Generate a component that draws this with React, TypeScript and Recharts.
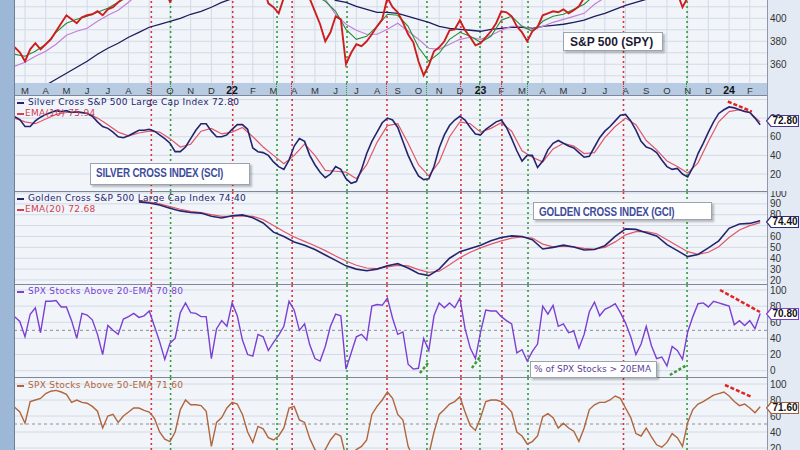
import React from "react";
import { LineChart, Line, XAxis, YAxis, CartesianGrid, ReferenceLine } from "recharts";

const FONT = "'Liberation Sans', Arial, sans-serif";
const SANS = "'DejaVu Sans', Verdana, sans-serif";

// time axis: months since Mar-2021
const X_DOMAIN: [number, number] = [-0.483, 35.83];
const monthLabels = ["M","A","M","J","J","A","S","O","N","D","22","F","M","A","M","J","J","A","S","O","N","D","23","F","M","A","M","J","J","A","S","O","N","D","24","F"];
const monthTicks = monthLabels.map((_, i) => i);
const weeklyDates = Array.from({ length: 145 }, (_, i) => -0.5 + 0.25 * i);
const biweeklyDates = Array.from({ length: 73 }, (_, j) => -0.5 + 0.5 * j);

const sellSignals = [6.1, 10.03, 12.9, 17.48, 21.05, 23.03, 28.9];
const buySignals = [7.03, 12.17, 15.55, 19.41, 21.97, 24.29, 31.97];

const spyClose = [
  374.8, 370.4, 362.6, 373, 378.3, 373, 377.4, 381.7, 388.7, 395.7,
  402.6, 399.1, 395.7, 400.9, 402.6, 403.5, 406.1, 402.6, 407.8, 409.6,
  413.9, 417.4, 425, 432, 438, 445, 448, 440, 432, 424,
  414.5, 421, 432, 440, 448, 455, 460, 462, 458, 465,
  468, 470, 472, 462, 445, 432, 440, 442, 428, 413,
  409.6, 404.3, 418, 430, 442, 448, 440, 417, 406.1, 394.8,
  380, 387.8, 401.7, 399.1, 360, 370, 377.4, 375.7, 380, 386.1,
  393, 399.1, 418, 409.6, 405.2, 396.5, 386.1, 379.1, 362.6, 350.4,
  359.1, 371.3, 374.8, 380, 389.6, 390.4, 398.3, 389.6, 383.5, 376.5,
  378.3, 383.5, 388.7, 395.7, 406.1, 405.2, 401.7, 393, 387.8, 380,
  388.7, 392.2, 402.6, 404.3, 406.1, 405.2, 407.8, 404.3, 407, 410.4,
  418, 425, 430, 435, 440, 446, 450, 455, 454, 448,
  444, 440, 444, 438, 432, 428, 425, 420, 422, 409.6,
  418, 430, 440, 446, 452, 458, 462, 466, 470, 472,
  475, 480, 485, 490, 495,
];
const spyEma20 = [
  368.7, 367, 371.3, 377.4, 387.8, 395.7, 399.1, 401.7, 405.2, 408.7,
  413.9, 419, 430, 440, 440, 435, 432, 440, 450, 460,
  462, 465, 455, 445, 440, 432, 430, 440, 445, 420,
  414.8, 406.1, 390.4, 381.7, 384.3, 393, 403.5, 402.6, 393, 374.8,
  362.6, 369.6, 381.7, 387.8, 384.3, 379.1, 384.3, 398.3, 401.7, 393,
  388.7, 397.4, 401.7, 403.5, 407.8, 412.2, 420, 430, 440, 445,
  445, 440, 435, 430, 425, 421, 428, 440, 450, 460,
  470, 478, 485,
];
const spyEma50 = [
  358.3, 361.7, 367, 371.3, 377.4, 385.2, 388.7, 391.3, 397.4, 402.6,
  407, 413.9, 422, 428, 432, 433, 433, 436, 442, 448,
  452, 455, 452, 448, 444, 440, 438, 438, 438, 425,
  416.5, 403.5, 394.8, 389.6, 386.1, 386.1, 390.4, 395.7, 388.7, 381.7,
  373.9, 373, 377.4, 381.7, 383.5, 381.7, 385.2, 389.6, 393, 393,
  390.4, 393, 396.5, 399.1, 401.7, 404.3, 412.2, 418, 424, 430,
  435, 437, 436, 434, 430, 428, 428, 432, 440, 447,
  455, 462, 468,
];
const spyMa200 = [
  329.6, 333, 338.3, 341.7, 347, 352.2, 357.4, 362.6, 368.7, 373.9,
  378.3, 383.5, 387.8, 392.2, 394.8, 397.4, 400, 403.5, 406.1, 409.6,
  413.9, 417, 420, 422, 424, 425, 426, 427, 427, 425,
  421, 415.6, 413.9, 410.4, 407.8, 405.2, 405.2, 404.3, 401.7, 399.1,
  396.5, 393, 391.3, 390.4, 389.6, 388.7, 390.4, 391.3, 392.2, 392.2,
  391.3, 393, 393.9, 394.8, 396.5, 398.3, 401.7, 404.3, 407.8, 411.3,
  413.9, 416.5, 418, 420, 421, 422, 424, 426, 429, 432,
  435, 438, 441,
];
const silverCross = [
  81.6, 78.4, 71, 71, 77, 81, 84, 86, 88, 87,
  88, 86, 87, 86, 85, 82, 76, 71, 69, 65,
  60, 59, 61, 64, 67, 67, 68, 66, 62, 58,
  53, 44, 44, 49, 58, 67, 74, 74, 66, 60,
  60, 62, 68, 73, 73, 68, 48, 44, 43, 40,
  33, 28, 25, 35, 50, 58, 55, 40, 30, 22,
  16, 20, 28, 25, 15, 10, 12, 25, 42, 55,
  65, 75, 80, 78, 70, 55, 40, 28, 18, 14,
  15, 28, 48, 62, 72, 78, 82, 78, 70, 63,
  62, 68, 72, 76, 78, 70, 58, 45, 34, 40,
  40, 27, 34, 46, 53, 56, 53, 50, 48, 43,
  38, 39, 49, 59, 66, 71, 77, 83, 84, 77,
  67, 55, 49, 47, 43, 35, 28, 25, 26, 20,
  17, 27, 42, 53, 65, 76, 85, 89, 92, 91,
  89, 87, 86, 80, 72.8,
];
const silverEma10 = [
  80, 76, 74, 79, 84, 86, 86, 85, 80, 73,
  65, 61, 64, 66, 65, 58, 49, 52, 66, 69,
  63, 65, 70, 60, 49, 40, 31, 40, 52, 40,
  24, 23, 22, 15, 30, 54, 72, 74, 53, 30,
  18, 33, 60, 76, 74, 65, 69, 75, 66, 45,
  38, 33, 47, 53, 50, 42, 43, 59, 71, 80,
  73, 56, 46, 34, 28, 21, 32, 55, 76, 87,
  89, 86, 75.94,
];
const goldenCross = [
  null, null, null, null, null, null, null, null, null, null, null, null,
  91.8, 90.8, 89, 86, 83.5, 82, 81.5, 78.5, 77, 79,
  79.8, 77.2, 72.4, 64, 60, 55, 52, 48, 43, 38,
  33, 30, 28.5, 30, 33, 35, 31, 26, 24, 30,
  40, 46, 49, 52, 56, 59, 60.5, 60, 57, 48.5,
  50, 52, 50.3, 47.5, 48, 51.5, 60, 67, 66.5, 63.5,
  60.5, 52.5, 47, 41.5, 43.5, 49.5, 56, 67.5, 71.5, 72,
  74.4,
];
const goldenEma20 = [
  null, null, null, null, null, null, null, null, null, null, null, null,
  92.5, 91.5, 90, 87.5, 85, 83, 82, 80, 78.5, 78.5,
  79, 78.5, 75.5, 70, 64.5, 59.5, 55.5, 51.5, 47, 42,
  37.5, 33.5, 31, 30.5, 32, 33.5, 33, 29.5, 27, 28,
  34, 40.5, 45.5, 49.5, 53, 56, 58.5, 59.5, 58.5, 53,
  50.5, 51, 50.5, 49, 48.5, 50, 55, 61.5, 64.5, 64.5,
  62.5, 57, 51.5, 46, 43.5, 45.5, 50.5, 59, 66, 70,
  72.68,
];
const above20Ema = [
  66.7, 61, 42, 70, 78, 47, 86, 86, 87, 79,
  79, 62, 40, 71, 69, 63, 45, 20, 56, 50,
  45, 64, 67, 71, 66, 68, 74, 55, 36, 14,
  34, 40, 72, 84, 72, 71, 67, 67, 15, 52,
  62, 55, 84, 68, 38, 20, 18, 45, 42, 25,
  35, 44, 55, 86, 75, 50, 58, 32, 15, 12,
  30, 55, 70, 68, 2, 22, 42, 45, 38, 80,
  82, 81, 90, 65, 45, 48, 8, 2, 3, 40,
  25, 68, 84, 78, 84, 78, 90, 52, 28, 15,
  48, 75, 74, 74, 67, 62, 58, 22, 26, 12,
  24, 33, 80, 70, 81, 55, 58, 47, 49, 28,
  45, 73, 85, 68, 76, 79, 83, 72, 59, 42,
  20, 33, 55, 31, 15, 17, 6, 30, 25, 14,
  48, 67, 83, 84, 79, 86, 84, 82, 80, 57,
  62, 56, 62, 52, 70.8,
];
const above50Ema = [
  71, 65, 51, 78, 80, 82, 88, 91, 92, 90,
  87, 77, 80, 77, 76, 72, 66, 45, 60, 62,
  52, 60, 65, 70, 70, 67, 65, 57, 40, 31,
  28, 40, 68, 80, 74, 74, 73, 66, 22, 52,
  58, 70, 77, 75, 62, 40, 27, 47, 44, 33,
  30, 35, 45, 70, 72, 55, 52, 32, 18, 12,
  18, 30, 38, 35, 8, 10, 18, 22, 30, 62,
  72, 80, 90, 82, 62, 55, 22, 8, 5, 15,
  12, 40, 62, 68, 75, 78, 84, 65, 48, 42,
  58, 78, 80, 80, 78, 72, 65, 40, 35, 25,
  28, 35, 59, 63, 58, 45, 51, 45, 41, 28,
  45, 68, 74, 77, 77, 80, 85, 82, 70, 58,
  38, 35, 45, 34, 24, 21, 27, 38, 33, 22,
  52, 68, 75, 78, 82, 86, 88, 90, 85, 78,
  73, 75, 70, 64, 71.6,
];

const sciTrend = [{ x: 33.94, y: 97.8 }, { x: 35.1, y: 87 }];
const above20Trend = [{ x: 33.56, y: 100 }, { x: 35.49, y: 72.7 }];
const above50Trend = [{ x: 33.8, y: 98.75 }, { x: 35.1, y: 83.75 }];
const above20Lows = [
  [{ x: 19.07, y: -2.9 }, { x: 19.46, y: 9.5 }],
  [{ x: 21.58, y: 3.3 }, { x: 21.97, y: 16.9 }],
  [{ x: 31.14, y: -5.3 }, { x: 31.97, y: 7.1 }],
];

const weeklyRows = weeklyDates.map((x, i) => ({
  x, spy: spyClose[i], sci: silverCross[i], a20: above20Ema[i], a50: above50Ema[i],
}));
const biweeklyRows = biweeklyDates.map((x, j) => ({
  x, ema20: spyEma20[j], ema50: spyEma50[j], ma200: spyMa200[j],
  sciEma: silverEma10[j], gci: goldenCross[j], gciEma: goldenEma20[j],
}));

const PLOT_LEFT = 15;
const PLOT_WIDTH = 752;
const toPx = (m: number) => PLOT_LEFT + ((m - X_DOMAIN[0]) / (X_DOMAIN[1] - X_DOMAIN[0])) * PLOT_WIDTH;

const tickStyle = { fill: "#333", fontSize: 10, fontFamily: FONT };

const MonthTick = (props: any) => {
  const { x, y, payload } = props;
  const label = monthLabels[payload.value];
  const year = /\d/.test(label);
  return (
    <text x={x} y={y + 8.5} textAnchor="middle" fontFamily={FONT} fontSize={year ? 10.5 : 9.5}
      fontWeight={year ? "bold" : "normal"} fill={year ? "#111" : "#333"}>{label}</text>
  );
};

function frame(domain: [number, number], ticks: number[], grid: number[], showMonths = false) {
  const els: any[] = [
    <CartesianGrid key="g" fill="#f1f5fa" fillOpacity={1} stroke="#d2dae6" verticalValues={monthTicks} horizontalValues={grid} />,
    <XAxis key="x" type="number" dataKey="x" domain={X_DOMAIN} allowDataOverflow ticks={monthTicks} interval={0}
      hide={!showMonths} height={showMonths ? 12 : 0} axisLine={false} tickLine={false} tickSize={0}
      tick={showMonths ? MonthTick : false} />,
    <YAxis key="y" orientation="right" width={33} domain={domain} allowDataOverflow ticks={ticks} interval={0}
      axisLine={false} tickLine={false} tickSize={0} tickMargin={3} tick={tickStyle} />,
  ];
  sellSignals.forEach((s) => els.push(
    <ReferenceLine key={"s" + s} x={s} stroke="#e0303a" strokeDasharray="2 3" strokeWidth={1.6} />));
  buySignals.forEach((s) => els.push(
    <ReferenceLine key={"b" + s} x={s} stroke="#2f9e3a" strokeDasharray="2 3" strokeWidth={1.6} />));
  return els;
}

const Legend = ({ top, color, text, bold }: any) => (
  <div style={{ position: "absolute", left: 17, top, fontFamily: SANS, fontSize: 9, color, whiteSpace: "nowrap", lineHeight: "10px", letterSpacing: 0.3 }}>
    <span style={{ display: "inline-block", width: 7, height: 2, background: color, verticalAlign: "middle", marginRight: bold ? 1 : 4 }} />
    {text}
  </div>
);

const Tag = ({ top, color, text }: any) => (
  <div style={{ position: "absolute", left: 766, top: top - 6, width: 33, height: 12 }}>
    <svg width={33} height={12} style={{ position: "absolute", left: 0, top: 0 }}>
      <polygon points="0.5,6 5,0.5 32.5,0.5 32.5,11.5 5,11.5" fill="#fff" stroke={color} strokeWidth={1.2} />
    </svg>
    <div style={{ position: "absolute", left: 5, top: 0, width: 28, textAlign: "center", fontFamily: FONT, fontWeight: "bold", fontSize: 10, lineHeight: "12px", color: "#111" }}>{text}</div>
  </div>
);

const Box = ({ left, top, width, height, children, style }: any) => (
  <div style={{ position: "absolute", left, top, width, height, background: "#fff", border: "1px solid #9aa3b0", boxShadow: "2px 2px 2px rgba(0,0,0,0.25)", boxSizing: "border-box", overflow: "hidden", ...style }}>{children}</div>
);

const Title = ({ text, color }: any) => (
  <div style={{ position: "absolute", left: 5, top: 2, fontFamily: FONT, fontWeight: "bold", fontSize: 12, color, whiteSpace: "nowrap", transform: "scaleX(0.82)", transformOrigin: "left center", letterSpacing: -0.2 }}>{text}</div>
);

export default function App() {
  const lineProps = { dot: false, activeDot: false, isAnimationActive: false, type: "linear" as const };
  return (
    <div style={{ position: "fixed", left: 0, top: 0, width: 800, height: 450, overflow: "hidden", background: "#e3eaf3" }}>
      <div style={{ position: "absolute", left: 0, top: 0, width: 15, height: 450, background: "#9db7d6" }} />
      <div style={{ position: "absolute", left: 15, top: 83, width: 752, height: 12, background: "#b7cbe2" }} />

      <div style={{ position: "absolute", left: 0, top: 0 }}>
        <LineChart width={800} height={95} margin={{ top: 0, right: 0, bottom: 0, left: 15 }} data={weeklyRows}>
          {frame([343.7, 415.9], [360, 380, 400], [350, 360, 370, 380, 390, 400, 410], true)}
          <Line {...lineProps} data={biweeklyRows} dataKey="ma200" stroke="#1d1d5c" strokeWidth={1.3} />
          <Line {...lineProps} data={biweeklyRows} dataKey="ema50" stroke="#c47fd6" strokeWidth={1.2} />
          <Line {...lineProps} data={biweeklyRows} dataKey="ema20" stroke="#2a8a34" strokeWidth={1.1} />
          <Line {...lineProps} dataKey="spy" stroke="#cc1e1e" strokeWidth={1.9} />
        </LineChart>
      </div>

      {sellSignals.map((s) => (
        <div key={"ss" + s} style={{ position: "absolute", left: toPx(s) - 0.8, top: 83, width: 0, height: 12, borderLeft: "1.6px dotted #e0303a" }} />
      ))}
      {buySignals.map((s) => (
        <div key={"sb" + s} style={{ position: "absolute", left: toPx(s) - 0.8, top: 83, width: 0, height: 12, borderLeft: "1.6px dotted #2f9e3a" }} />
      ))}

      <div style={{ position: "absolute", left: 0, top: 95 }}>
        <LineChart width={800} height={96} margin={{ top: 0, right: 0, bottom: 0, left: 15 }} data={weeklyRows}>
          {frame([1.8, 104.8], [20, 40, 60, 80], [20, 40, 60, 80, 100])}
          <Line {...lineProps} data={biweeklyRows} dataKey="sciEma" stroke="#e0566a" strokeWidth={1.2} />
          <Line {...lineProps} dataKey="sci" stroke="#25256e" strokeWidth={1.6} />
          <ReferenceLine segment={sciTrend} stroke="#e02424" strokeWidth={2.5} strokeDasharray="4 2" />
        </LineChart>
      </div>

      <div style={{ position: "absolute", left: 0, top: 191 }}>
        <LineChart width={800} height={93} margin={{ top: 0, right: 0, bottom: 0, left: 15 }} data={biweeklyRows}>
          {frame([16.3, 101.8], [20, 30, 40, 50, 60, 80, 90, 100], [20, 30, 40, 50, 60, 70, 80, 90, 100])}
          <Line {...lineProps} dataKey="gciEma" stroke="#e0566a" strokeWidth={1.2} />
          <Line {...lineProps} dataKey="gci" stroke="#25256e" strokeWidth={1.6} />
        </LineChart>
      </div>

      <div style={{ position: "absolute", left: 0, top: 284 }}>
        <LineChart width={800} height={93} margin={{ top: 0, right: 0, bottom: 0, left: 15 }} data={weeklyRows}>
          {frame([-7.8, 107.4], [0, 20, 40, 60, 80, 100], [0, 20, 40, 60, 80, 100])}
          <ReferenceLine y={50} stroke="#8a8f98" strokeDasharray="3 3" />
          <Line {...lineProps} dataKey="a20" stroke="#7b3fd2" strokeWidth={1.4} />
          <ReferenceLine segment={above20Trend} stroke="#e02424" strokeWidth={2.5} strokeDasharray="4 2" />
          {above20Lows.map((seg, k) => (
            <ReferenceLine key={"gl" + k} segment={seg} stroke="#3b9a34" strokeWidth={2.5} strokeDasharray="3 2" />
          ))}
        </LineChart>
      </div>

      <div style={{ position: "absolute", left: 0, top: 377 }}>
        <LineChart width={800} height={73} margin={{ top: 0, right: 0, bottom: 0, left: 15 }} data={weeklyRows}>
          {frame([17.5, 108.75], [20, 40, 60, 80, 100], [20, 40, 60, 80, 100])}
          <ReferenceLine y={50} stroke="#8a8f98" strokeDasharray="3 3" />
          <Line {...lineProps} dataKey="a50" stroke="#b0653c" strokeWidth={1.4} />
          <ReferenceLine segment={above50Trend} stroke="#e02424" strokeWidth={2.5} strokeDasharray="4 2" />
        </LineChart>
      </div>

      {[95, 191, 284, 377].map((y) => (
        <div key={y} style={{ position: "absolute", left: 15, top: y, width: 752, height: 1, background: "#7d8797" }} />
      ))}
      <div style={{ position: "absolute", left: 14, top: 0, width: 1, height: 450, background: "#6f7f96" }} />
      <div style={{ position: "absolute", left: 767, top: 0, width: 1, height: 450, background: "#8d99aa" }} />

      <Legend top={97} color="#25256e" text="Silver Cross S&P 500 Large Cap Index 72.80" />
      <Legend top={108} color="#d0404f" text="EMA(10) 75.94" bold />
      <Legend top={193} color="#25256e" text="Golden Cross S&P 500 Large Cap Index 74.40" />
      <Legend top={204} color="#d0404f" text="EMA(20) 72.68" bold />
      <Legend top={286} color="#7b3fd2" text="SPX Stocks Above 20-EMA 70.80" />
      <Legend top={380} color="#b0653c" text="SPX Stocks Above 50-EMA 71.60" />

      <Box left={563} top={32} width={100} height={19}>
        <div style={{ position: "absolute", left: 6, top: 2, fontFamily: FONT, fontWeight: "bold", fontSize: 12, color: "#1b1b35", whiteSpace: "nowrap" }}>S&amp;P 500 (SPY)</div>
      </Box>
      <Box left={90} top={163} width={160} height={22}>
        <Title text="SILVER CROSS INDEX (SCI)" color="#3d4c9c" />
      </Box>
      <Box left={533} top={202} width={179} height={18}>
        <Title text="GOLDEN CROSS INDEX (GCI)" color="#3d4c9c" />
      </Box>
      <Box left={530} top={361} width={127} height={17}>
        <div style={{ position: "absolute", left: 3, top: 2, fontFamily: SANS, fontSize: 9, color: "#5b3f98", whiteSpace: "nowrap" }}>% of SPX Stocks &gt; 20EMA</div>
      </Box>

      <Tag top={121} color="#4b3a8c" text="72.80" />
      <Tag top={222} color="#2d2d7a" text="74.40" />
      <Tag top={314} color="#7b3fd2" text="70.80" />
      <Tag top={408} color="#a0603a" text="71.60" />
    </div>
  );
}
